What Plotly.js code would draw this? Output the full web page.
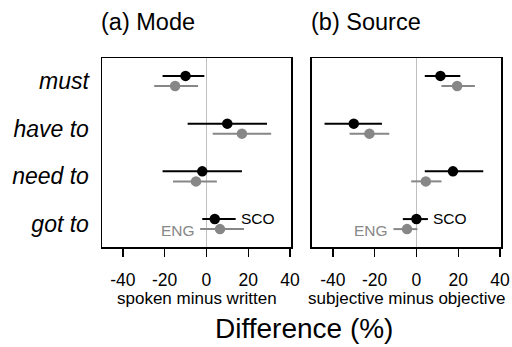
<!DOCTYPE html>
<html>
<head>
<meta charset="utf-8">
<script src="https://cdn.plot.ly/plotly-3.0.1.min.js"></script>
<style>html,body{margin:0;padding:0;background:#fff;}#chart{width:512px;height:347px;}</style>
</head>
<body>
<div id="chart"></div>
<script>
// Categories (top to bottom)
const categories = ['must', 'have to', 'need to', 'got to'];

// (a) Mode: spoken minus written
const modeSCO    = [-10, 10, -2, 4];
const modeSCOlo  = [-21, -9, -21, -2];
const modeSCOhi  = [-1, 29, 17, 14];
const modeENG    = [-15, 17, -5, 6.5];
const modeENGlo  = [-25, 3, -16, -3];
const modeENGhi  = [-4, 31, 5, 18];

// (b) Source: subjective minus objective
const srcSCO     = [11.5, -30, 17.5, 0];
const srcSCOlo   = [4, -44, 4, -6.5];
const srcSCOhi   = [21, -16.5, 32, 5.5];
const srcENG     = [19.5, -22.5, 4.5, -4.5];
const srcENGlo   = [12, -32, -2.5, -11];
const srcENGhi   = [28, -13, 12, 0.5];

const tickVals = [-40, -20, 0, 20, 40];
const tickText = ['-40', '-20', '0', '20', '40'];
const panelTitles = ['(a) Mode', '(b) Source'];
const subTitles = ['spoken minus written', 'subjective minus objective'];
const mainTitle = 'Difference (%)';
const groupLabels = ['SCO', 'ENG'];

const FONT = 'Liberation Sans, Arial, sans-serif';
const BLACK = '#000000';
const GREY = '#878787';
const n = categories.length;
const catPos = categories.map((c, i) => n - i);

function trace(x, lo, hi, color, off, xa, ya) {
  return {
    type: 'scatter', mode: 'markers',
    x: x, y: catPos.map(p => p + off),
    xaxis: xa, yaxis: ya,
    marker: {color: color, size: 10.5},
    error_x: {type: 'data', symmetric: false,
      array: x.map((v, i) => hi[i] - v),
      arrayminus: x.map((v, i) => v - lo[i]),
      color: color, thickness: 2, width: 0},
    showlegend: false, hoverinfo: 'skip', cliponaxis: false
  };
}
const OFF = 0.105;
const data = [
  trace(modeSCO, modeSCOlo, modeSCOhi, BLACK, OFF, 'x', 'y'),
  trace(modeENG, modeENGlo, modeENGhi, GREY, -OFF, 'x', 'y'),
  trace(srcSCO, srcSCOlo, srcSCOhi, BLACK, OFF, 'x2', 'y2'),
  trace(srcENG, srcENGlo, srcENGhi, GREY, -OFF, 'x2', 'y2')
];

function xaxis(domain, anchor) {
  return {
    domain: domain, anchor: anchor, range: [-50, 40.5],
    tickvals: tickVals, ticktext: tickText, ticks: 'outside', ticklen: 8, tickwidth: 1.3, tickcolor: '#000',
    ticklabelstandoff: 8,
    tickfont: {family: FONT, size: 17.5, color: '#000'},
    showline: true, linecolor: '#000', linewidth: 1.5, mirror: true,
    showgrid: false, zeroline: true, zerolinecolor: '#c0c0c0', zerolinewidth: 1.5,
    fixedrange: true
  };
}
function yaxis(anchor, showLabels) {
  return {
    anchor: anchor, range: [0.52, n + 0.48],
    tickvals: catPos, ticktext: categories, showticklabels: showLabels,
    ticks: '', ticklabelstandoff: 7,
    tickfont: {family: FONT, size: 23, color: '#000', style: 'italic'},
    showline: true, linecolor: '#000', linewidth: 1.5, mirror: true,
    showgrid: false, zeroline: false, fixedrange: true
  };
}

const d1 = [0, 0.4737], d2 = [0.5263, 1];
const annotations = [];
[d1, d2].forEach((d, k) => {
  annotations.push({text: panelTitles[k], xref: 'paper', yref: 'paper', x: d[0], y: 1,
    xanchor: 'left', yanchor: 'bottom', yshift: 21, xshift: -3, showarrow: false,
    font: {family: FONT, size: 23.5, color: '#000'}});
  annotations.push({text: subTitles[k], xref: 'paper', yref: 'paper', x: (d[0] + d[1]) / 2, y: 0,
    xanchor: 'center', yanchor: 'middle', yshift: -51, showarrow: false,
    font: {family: FONT, size: 17, color: '#000'}});
});
annotations.push({text: mainTitle, xref: 'paper', yref: 'paper', x: 0.5, y: 0,
  xanchor: 'center', yanchor: 'middle', yshift: -81, xshift: 2, showarrow: false,
  font: {family: FONT, size: 28, color: '#000'}});
// SCO / ENG labels on the last row
const last = n - 1;
[['x', 'y', modeSCOhi, modeENGlo], ['x2', 'y2', srcSCOhi, srcENGlo]].forEach(a => {
  annotations.push({text: groupLabels[0], xref: a[0], yref: a[1], x: a[2][last], y: catPos[last] + OFF + 0.02,
    xanchor: 'left', yanchor: 'middle', xshift: 3, showarrow: false,
    font: {family: FONT, size: 15.5, color: BLACK}});
  annotations.push({text: groupLabels[1], xref: a[0], yref: a[1], x: a[3][last], y: catPos[last] - OFF - 0.02,
    xanchor: 'right', yanchor: 'middle', xshift: -3, showarrow: false,
    font: {family: FONT, size: 15.5, color: GREY}});
});

const layout = {
  width: 512, height: 347,
  margin: {l: 102, r: 11, t: 58, b: 100},
  paper_bgcolor: '#fff', plot_bgcolor: '#fff',
  xaxis: xaxis(d1, 'y'), yaxis: yaxis('x', true),
  xaxis2: xaxis(d2, 'y2'), yaxis2: yaxis('x2', false),
  annotations: annotations,
  showlegend: false
};
Plotly.newPlot('chart', data, layout, {staticPlot: true, displayModeBar: false});
</script>
</body>
</html>
